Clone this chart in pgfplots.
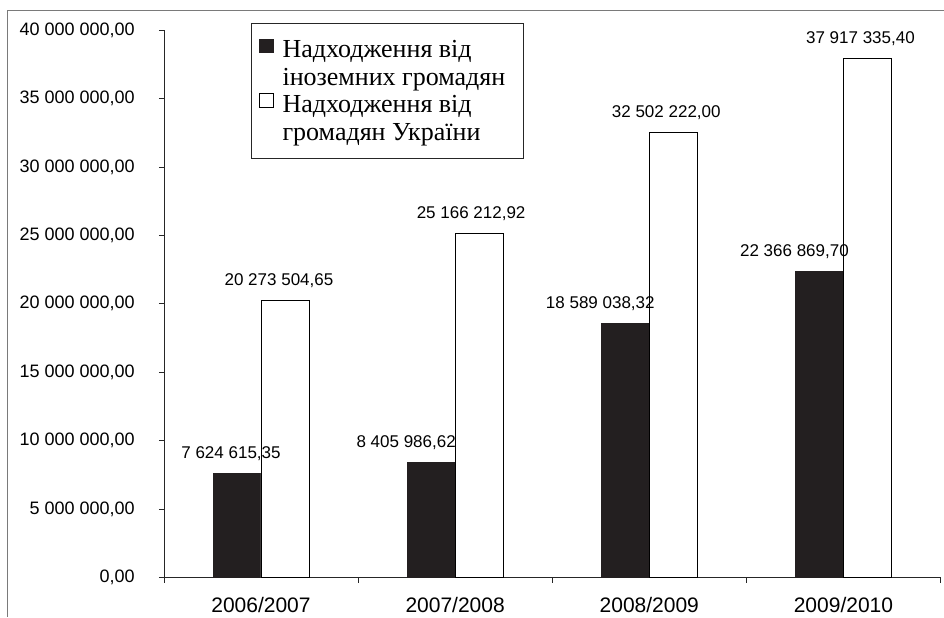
\documentclass[border=0pt]{standalone}
\usepackage{fontspec}
\setmainfont{Liberation Sans}
\newfontfamily\legendfont{Liberation Serif}
\usepackage{pgfplots}
\pgfplotsset{compat=1.18}
\usepackage{pgfplotstable}

\definecolor{barblack}{HTML}{231F20}
\definecolor{framegray}{HTML}{7A7A7A}

% foreign students
\pgfplotstableread[col sep=semicolon]{
x;y;lbl;dx
0;7624615.35;7 624 615,35;-6
1;8405986.62;8 405 986,62;-25
2;18589038.32;18 589 038,32;-25
3;22366869.70;22 366 869,70;-25
}\foreign

% Ukrainian students
\pgfplotstableread[col sep=semicolon]{
x;y;lbl;dx
0;20273504.65;20 273 504,65;-6
1;25166212.92;25 166 212,92;-8
2;32502222.00;32 502 222,00;-7
3;37917335.40;37 917 335,40;-7
}\ukrainian

\begin{document}
\begin{tikzpicture}
\begin{axis}[
  scale only axis,
  width=777bp, height=548bp,
  xmin=-0.5, xmax=3.5,
  ymin=0, ymax=40000000,
  axis lines*=left,
  axis line style={black!85, line width=0.8bp},
  tick style={black!85, line width=0.8bp},
  tick align=outside,
  major tick length=5bp,
  ybar=0bp, bar width=48bp,
  xtick={-0.5,0.5,1.5,2.5,3.5},
  x tick label as interval,
  xticklabels={2006/2007,2007/2008,2008/2009,2009/2010},
  xticklabel style={font=\fontsize{21bp}{23bp}\selectfont, anchor=north, inner sep=0pt, yshift=-14bp},
  ytick={0,5000000,10000000,15000000,20000000,25000000,30000000,35000000,40000000},
  yticklabels={{0,00},{5 000 000,00},{10 000 000,00},{15 000 000,00},{20 000 000,00},{25 000 000,00},{30 000 000,00},{35 000 000,00},{40 000 000,00}},
  scaled y ticks=false,
  yticklabel style={font=\fontsize{18bp}{20bp}\selectfont, anchor=east, inner sep=0pt, xshift=-24bp},
  nodes near coords,
  point meta=explicit symbolic,
  visualization depends on={\thisrow{dx}\as\dx},
  every node near coord/.append style={font=\fontsize{17bp}{19bp}\selectfont, anchor=base, inner sep=0pt, yshift=15bp, xshift=\dx*1bp, black},
  legend cell align=left,
  legend image code/.code={\draw[#1,line width=0.8bp] (0bp,11bp) rectangle (13.5bp,24.5bp);},
  legend style={at={(axis description cs:0.112,1.0128)}, anchor=north west,
    draw=black!85, line width=0.8bp, inner xsep=8bp, inner ysep=15bp,
    font=\legendfont\fontsize{26bp}{28bp}\selectfont,
    cells={align=left, anchor=west, inner sep=0pt},
    row sep=4bp, column sep=7bp},
]
\addplot[fill=barblack, draw=barblack, line width=0.6bp]
  table[x=x, y=y, meta=lbl] {\foreign};
\addlegendentry{Надходження від\\іноземних громадян\rule{8bp}{0pt}}
\addplot[fill=white, draw=black, line width=0.9bp]
  table[x=x, y=y, meta=lbl] {\ukrainian};
\addlegendentry{Надходження від\\громадян України}
\coordinate (SW) at (rel axis cs:0,0);
\end{axis}
\pgfresetboundingbox
\begin{scope}[shift={(SW)}]
  \path (-164bp,-39bp) rectangle (780bp,578bp);
  \draw[framegray, line width=1bp] (-156bp,-39bp) -- (-156bp,567bp) -- (780bp,567bp);
\end{scope}
\end{tikzpicture}
\end{document}
